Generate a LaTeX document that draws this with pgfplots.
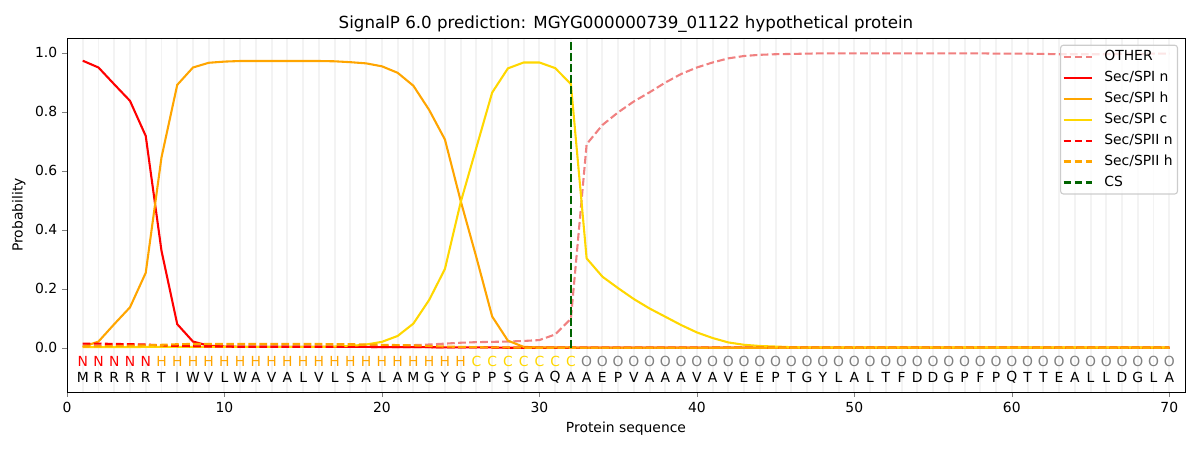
\documentclass[border=0pt]{standalone}
\usepackage{fontspec}
\setmainfont{DejaVu Sans}
\usepackage{pgfplots}
\pgfplotsset{compat=1.18}
\usepackage{pgfplotstable}
\definecolor{lightcoral}{HTML}{F08080}
\definecolor{mplorange}{HTML}{FFA500}
\definecolor{mplgold}{HTML}{FFD700}
\definecolor{mplgreen}{HTML}{006400}
\definecolor{mplred}{HTML}{FF0000}
\definecolor{gridc}{HTML}{F3F3F3}

\pgfplotstableread{
x other spin spih spic spiin spiih
1 0.008 0.973 0.003 0.002 0.014 0.004
2 0.007 0.950 0.021 0.002 0.014 0.005
3 0.006 0.893 0.080 0.002 0.013 0.006
4 0.006 0.837 0.137 0.002 0.012 0.007
5 0.005 0.718 0.254 0.003 0.011 0.008
6 0.005 0.329 0.645 0.003 0.008 0.010
7 0.005 0.080 0.891 0.003 0.006 0.012
8 0.005 0.021 0.950 0.003 0.005 0.013
9 0.005 0.007 0.966 0.003 0.004 0.013
10 0.005 0.004 0.970 0.003 0.004 0.013
11 0.005 0.003 0.972 0.003 0.003 0.013
12 0.005 0.003 0.972 0.003 0.003 0.013
13 0.005 0.003 0.972 0.003 0.003 0.013
14 0.005 0.003 0.972 0.003 0.003 0.013
15 0.005 0.003 0.972 0.003 0.003 0.013
16 0.005 0.003 0.972 0.003 0.003 0.013
17 0.005 0.003 0.971 0.004 0.003 0.012
18 0.005 0.003 0.968 0.006 0.003 0.012
19 0.006 0.003 0.964 0.011 0.003 0.011
20 0.006 0.002 0.954 0.020 0.002 0.010
21 0.007 0.002 0.932 0.040 0.002 0.009
22 0.009 0.002 0.888 0.082 0.002 0.008
23 0.011 0.002 0.806 0.162 0.002 0.006
24 0.014 0.001 0.706 0.267 0.001 0.004
25 0.017 0.001 0.498 0.493 0.001 0.003
26 0.019 0.001 0.306 0.679 0.001 0.002
27 0.020 0.001 0.106 0.865 0.001 0.001
28 0.021 0.000 0.024 0.947 0.000 0.001
29 0.023 0.000 0.003 0.967 0.000 0.000
30 0.026 0.000 0.001 0.967 0.000 0.000
31 0.045 0.000 0.001 0.948 0.000 0.000
32 0.098 0.000 0.001 0.894 0.000 0.000
33 0.690 0.000 0.000 0.303 0.000 0.000
34 0.755 0.000 0.000 0.241 0.000 0.000
35 0.798 0.000 0.000 0.202 0.000 0.000
36 0.835 0.000 0.000 0.165 0.000 0.000
37 0.866 0.000 0.000 0.133 0.000 0.000
38 0.899 0.000 0.000 0.105 0.000 0.000
39 0.928 0.000 0.000 0.077 0.000 0.000
40 0.950 0.000 0.000 0.052 0.000 0.000
41 0.967 0.000 0.000 0.033 0.000 0.000
42 0.981 0.000 0.000 0.018 0.000 0.000
43 0.989 0.000 0.000 0.010 0.000 0.000
44 0.993 0.000 0.000 0.006 0.000 0.000
45 0.995 0.000 0.000 0.004 0.000 0.000
46 0.996 0.000 0.000 0.002 0.000 0.000
47 0.997 0.000 0.000 0.001 0.000 0.000
48 0.998 0.000 0.000 0.001 0.000 0.000
49 0.998 0.000 0.000 0.001 0.000 0.000
50 0.998 0.000 0.000 0.001 0.000 0.000
51 0.998 0.000 0.000 0.001 0.000 0.000
52 0.998 0.000 0.000 0.001 0.000 0.000
53 0.998 0.000 0.000 0.001 0.000 0.000
54 0.998 0.000 0.000 0.001 0.000 0.000
55 0.998 0.000 0.000 0.001 0.000 0.000
56 0.998 0.000 0.000 0.001 0.000 0.000
57 0.998 0.000 0.000 0.001 0.000 0.000
58 0.998 0.000 0.000 0.001 0.000 0.000
59 0.997 0.000 0.000 0.001 0.000 0.000
60 0.997 0.000 0.000 0.001 0.000 0.000
61 0.997 0.000 0.000 0.001 0.000 0.000
62 0.996 0.000 0.000 0.001 0.000 0.000
63 0.995 0.000 0.000 0.001 0.000 0.000
64 0.995 0.000 0.000 0.001 0.000 0.000
65 0.995 0.000 0.000 0.001 0.000 0.000
66 0.995 0.000 0.000 0.001 0.000 0.000
67 0.996 0.000 0.000 0.001 0.000 0.000
68 0.996 0.000 0.000 0.001 0.000 0.000
69 0.997 0.000 0.000 0.001 0.000 0.000
70 0.997 0.000 0.000 0.001 0.000 0.000
}\probs

\pgfplotstableread{
x y lab
1 -0.10 M
2 -0.10 R
3 -0.10 R
4 -0.10 R
5 -0.10 R
6 -0.10 T
7 -0.10 I
8 -0.10 W
9 -0.10 V
10 -0.10 L
11 -0.10 W
12 -0.10 A
13 -0.10 V
14 -0.10 A
15 -0.10 L
16 -0.10 V
17 -0.10 L
18 -0.10 S
19 -0.10 A
20 -0.10 L
21 -0.10 A
22 -0.10 M
23 -0.10 G
24 -0.10 Y
25 -0.10 G
26 -0.10 P
27 -0.10 P
28 -0.10 S
29 -0.10 G
30 -0.10 A
31 -0.10 Q
32 -0.10 A
33 -0.10 A
34 -0.10 E
35 -0.10 P
36 -0.10 V
37 -0.10 A
38 -0.10 A
39 -0.10 A
40 -0.10 V
41 -0.10 A
42 -0.10 V
43 -0.10 E
44 -0.10 E
45 -0.10 P
46 -0.10 T
47 -0.10 G
48 -0.10 Y
49 -0.10 L
50 -0.10 A
51 -0.10 L
52 -0.10 T
53 -0.10 F
54 -0.10 D
55 -0.10 D
56 -0.10 G
57 -0.10 P
58 -0.10 F
59 -0.10 P
60 -0.10 Q
61 -0.10 T
62 -0.10 T
63 -0.10 E
64 -0.10 A
65 -0.10 L
66 -0.10 L
67 -0.10 D
68 -0.10 G
69 -0.10 L
70 -0.10 A
}\seqtab

\pgfplotstableread{
x y lab
1 -0.047 N
2 -0.047 N
3 -0.047 N
4 -0.047 N
5 -0.047 N
}\ntab

\pgfplotstableread{
x y lab
6 -0.047 H
7 -0.047 H
8 -0.047 H
9 -0.047 H
10 -0.047 H
11 -0.047 H
12 -0.047 H
13 -0.047 H
14 -0.047 H
15 -0.047 H
16 -0.047 H
17 -0.047 H
18 -0.047 H
19 -0.047 H
20 -0.047 H
21 -0.047 H
22 -0.047 H
23 -0.047 H
24 -0.047 H
25 -0.047 H
}\htab

\pgfplotstableread{
x y lab
26 -0.047 C
27 -0.047 C
28 -0.047 C
29 -0.047 C
30 -0.047 C
31 -0.047 C
32 -0.047 C
}\ctab

\pgfplotstableread{
x y lab
33 -0.047 O
34 -0.047 O
35 -0.047 O
36 -0.047 O
37 -0.047 O
38 -0.047 O
39 -0.047 O
40 -0.047 O
41 -0.047 O
42 -0.047 O
43 -0.047 O
44 -0.047 O
45 -0.047 O
46 -0.047 O
47 -0.047 O
48 -0.047 O
49 -0.047 O
50 -0.047 O
51 -0.047 O
52 -0.047 O
53 -0.047 O
54 -0.047 O
55 -0.047 O
56 -0.047 O
57 -0.047 O
58 -0.047 O
59 -0.047 O
60 -0.047 O
61 -0.047 O
62 -0.047 O
63 -0.047 O
64 -0.047 O
65 -0.047 O
66 -0.047 O
67 -0.047 O
68 -0.047 O
69 -0.047 O
70 -0.047 O
}\otab

\begin{document}
\begin{tikzpicture}
\path[use as bounding box] (-48.24pt,-41.76pt) rectangle (815.76pt,282.24pt);
\begin{axis}[
  at={(0pt,0pt)}, anchor=south west,
  scale only axis, width=804.96pt, height=254.88pt,
  xmin=0, xmax=71, ymin=-0.15, ymax=1.05,
  xtick={0,10,...,70},
  ytick={0,0.2,0.4,0.6,0.8,1.0},
  yticklabel style={/pgf/number format/fixed,/pgf/number format/fixed zerofill,/pgf/number format/precision=1},
  /pgf/number format/assume math mode=true,
  tick align=outside, major tick length=3.5pt,
  xtick pos=bottom, ytick pos=left,
  minor xtick={1,...,70}, minor tick length=0pt,
  xminorgrids, minor grid style={line width=1.4pt, draw=gridc},
  tick label style={font=\fontsize{10}{12}\selectfont},
  label style={font=\fontsize{10}{12}\selectfont},
  xlabel={Protein sequence}, ylabel={Probability},
  title={SignalP 6.0 prediction: MGYG000000739\_01122 hypothetical protein},
  title style={font=\fontsize{12}{14}\selectfont, yshift=-5.5pt},
  every axis plot/.append style={line width=1.5pt},
  legend image code/.code={\draw[#1] (0pt,0pt) -- (20.5pt,0pt);},
  legend cell align=left,
  legend style={at={(1,1)}, anchor=north east, xshift=-5pt, yshift=-4.8pt,
    draw=black!20, rounded corners=2pt, fill=white, fill opacity=0.8, text opacity=1,
    font=\fontsize{10}{12}\selectfont, line width=0.8pt, inner sep=1.5pt,
    nodes={text height=7.5pt, text depth=2pt, inner sep=2pt},
    row sep=1.6pt, column sep=6pt},
  nodes near coords style={anchor=center, font=\fontsize{10}{12}\selectfont},
]
\addplot[lightcoral, dash pattern=on 5.55pt off 2.4pt] table[x=x,y=other] {\probs};
\addlegendentry{OTHER}
\addplot[mplred] table[x=x,y=spin] {\probs};
\addlegendentry{Sec/SPI n}
\addplot[mplorange] table[x=x,y=spih] {\probs};
\addlegendentry{Sec/SPI h}
\addplot[mplgold] table[x=x,y=spic] {\probs};
\addlegendentry{Sec/SPI c}
\addplot[mplred, dash pattern=on 5.55pt off 2.4pt] table[x=x,y=spiin] {\probs};
\addlegendentry{Sec/SPII n}
\addplot[mplorange, dash pattern=on 5.55pt off 2.4pt] table[x=x,y=spiih] {\probs};
\addlegendentry{Sec/SPII h}
\addplot[mplgreen, dash pattern=on 5.55pt off 2.4pt] coordinates {(32,0) (32,1.04)};
\addlegendentry{CS}

\addplot[forget plot, draw=none, mark=none, nodes near coords, point meta=explicit symbolic, nodes near coords style={text=black}] table[x=x,y=y,meta=lab] {\seqtab};
\addplot[forget plot, draw=none, mark=none, nodes near coords, point meta=explicit symbolic, nodes near coords style={text=mplred}] table[x=x,y=y,meta=lab] {\ntab};
\addplot[forget plot, draw=none, mark=none, nodes near coords, point meta=explicit symbolic, nodes near coords style={text=mplorange}] table[x=x,y=y,meta=lab] {\htab};
\addplot[forget plot, draw=none, mark=none, nodes near coords, point meta=explicit symbolic, nodes near coords style={text=mplgold}] table[x=x,y=y,meta=lab] {\ctab};
\addplot[forget plot, draw=none, mark=none, nodes near coords, point meta=explicit symbolic, nodes near coords style={text=gray}] table[x=x,y=y,meta=lab] {\otab};
\end{axis}
\end{tikzpicture}
\end{document}
